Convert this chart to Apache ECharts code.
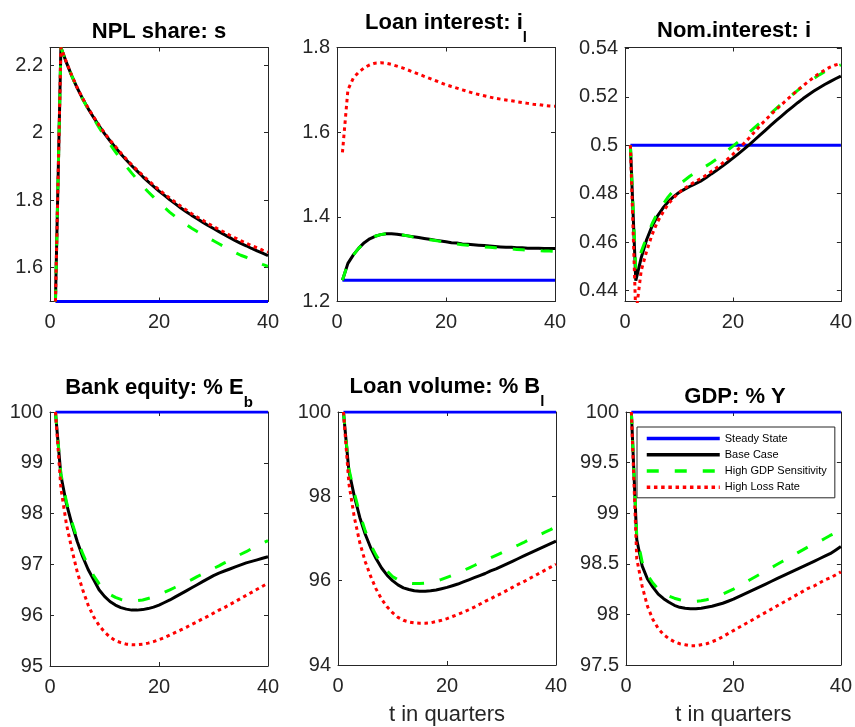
<!DOCTYPE html>
<html><head><meta charset="utf-8">
<script src="https://cdn.jsdelivr.net/npm/echarts@6/dist/echarts.min.js"></script>
<style>html,body{margin:0;padding:0;background:#fff}#c{width:855px;height:727px}</style>
</head><body><div id="c"></div>
<script>
const quarters = [1,2,3,4,5,6,7,8,9,10,11,12,13,14,15,16,17,18,19,20,21,22,23,24,25,26,27,28,29,30,31,32,33,34,35,36,37,38,39,40];
const seriesNames = ['Steady State','Base Case','High GDP Sensitivity','High Loss Rate'];

// Panel 1: NPL share s
const nplSteady = [1.5,1.5,1.5,1.5,1.5,1.5,1.5,1.5,1.5,1.5,1.5,1.5,1.5,1.5,1.5,1.5,1.5,1.5,1.5,1.5,1.5,1.5,1.5,1.5,1.5,1.5,1.5,1.5,1.5,1.5,1.5,1.5,1.5,1.5,1.5,1.5,1.5,1.5,1.5,1.5];
const nplBase = [1.500,2.252,2.208,2.168,2.132,2.100,2.071,2.045,2.020,1.997,1.976,1.956,1.937,1.919,1.902,1.886,1.870,1.855,1.841,1.827,1.814,1.801,1.789,1.777,1.766,1.755,1.745,1.735,1.725,1.716,1.707,1.698,1.689,1.680,1.672,1.665,1.657,1.650,1.643,1.636];
const nplGdp = [1.500,2.252,2.208,2.168,2.131,2.099,2.069,2.042,2.015,1.990,1.966,1.943,1.921,1.900,1.880,1.861,1.842,1.825,1.809,1.793,1.778,1.764,1.751,1.739,1.728,1.717,1.707,1.698,1.688,1.680,1.671,1.662,1.654,1.645,1.637,1.631,1.623,1.617,1.610,1.604];
const nplLoss = [1.500,2.252,2.209,2.169,2.133,2.101,2.073,2.047,2.022,1.999,1.978,1.959,1.940,1.922,1.905,1.889,1.874,1.859,1.845,1.831,1.818,1.806,1.794,1.782,1.771,1.760,1.750,1.741,1.731,1.722,1.713,1.705,1.696,1.688,1.680,1.673,1.665,1.659,1.652,1.646];
const nplTicks = [1.6,1.8,2,2.2];

// Panel 2: Loan interest i_l
const loanSteady = [1.25,1.25,1.25,1.25,1.25,1.25,1.25,1.25,1.25,1.25,1.25,1.25,1.25,1.25,1.25,1.25,1.25,1.25,1.25,1.25,1.25,1.25,1.25,1.25,1.25,1.25,1.25,1.25,1.25,1.25,1.25,1.25,1.25,1.25,1.25,1.25,1.25,1.25,1.25,1.25];
const loanBase = [1.250,1.290,1.310,1.326,1.339,1.348,1.354,1.358,1.360,1.360,1.359,1.357,1.355,1.353,1.351,1.349,1.347,1.345,1.343,1.341,1.339,1.338,1.336,1.335,1.334,1.333,1.332,1.331,1.330,1.329,1.328,1.328,1.327,1.327,1.326,1.326,1.326,1.325,1.325,1.325];
const loanGdp = [1.250,1.290,1.310,1.326,1.339,1.348,1.354,1.358,1.360,1.360,1.359,1.357,1.355,1.352,1.350,1.348,1.346,1.344,1.342,1.340,1.338,1.336,1.334,1.333,1.331,1.330,1.329,1.328,1.327,1.326,1.325,1.324,1.323,1.322,1.321,1.321,1.320,1.319,1.319,1.318];
const loanLoss = [1.552,1.700,1.728,1.742,1.752,1.759,1.763,1.764,1.763,1.760,1.756,1.752,1.747,1.742,1.737,1.732,1.727,1.722,1.717,1.712,1.708,1.704,1.700,1.696,1.692,1.689,1.686,1.683,1.680,1.678,1.676,1.674,1.672,1.670,1.668,1.666,1.665,1.663,1.662,1.661];
const loanTicks = [1.2,1.4,1.6,1.8];

// Panel 3: Nominal interest i
const nomSteady = [0.5,0.5,0.5,0.5,0.5,0.5,0.5,0.5,0.5,0.5,0.5,0.5,0.5,0.5,0.5,0.5,0.5,0.5,0.5,0.5,0.5,0.5,0.5,0.5,0.5,0.5,0.5,0.5,0.5,0.5,0.5,0.5,0.5,0.5,0.5,0.5,0.5,0.5,0.5,0.5];
const nomBase = [0.500,0.4441,0.4535,0.4610,0.4665,0.4708,0.4740,0.4767,0.4788,0.4805,0.4818,0.4830,0.4841,0.4852,0.4866,0.4882,0.4897,0.4913,0.4930,0.4947,0.4965,0.4983,0.5002,0.5022,0.5042,0.5062,0.5082,0.5102,0.5121,0.5140,0.5158,0.5176,0.5193,0.5209,0.5224,0.5238,0.5251,0.5263,0.5275,0.5286];
const nomGdp = [0.500,0.4490,0.4560,0.4620,0.4675,0.4720,0.4755,0.4787,0.4813,0.4836,0.4855,0.4872,0.4887,0.4900,0.4914,0.4928,0.4944,0.4961,0.4979,0.4997,0.5015,0.5034,0.5053,0.5073,0.5092,0.5112,0.5132,0.5152,0.5172,0.5191,0.5209,0.5227,0.5245,0.5261,0.5276,0.5291,0.5304,0.5316,0.5325,0.5332];
const nomLoss = [0.500,0.4300,0.4482,0.4562,0.4630,0.4683,0.4722,0.4757,0.4783,0.4805,0.4822,0.4836,0.4850,0.4862,0.4876,0.4892,0.4908,0.4925,0.4943,0.4963,0.4985,0.5007,0.5030,0.5055,0.5080,0.5104,0.5126,0.5148,0.5168,0.5188,0.5208,0.5228,0.5246,0.5264,0.5281,0.5297,0.5311,0.5323,0.5332,0.5338];
const nomTicks = [0.44,0.46,0.48,0.5,0.52,0.54];

// Panel 4: Bank equity % E_b
const eqSteady = [100,100,100,100,100,100,100,100,100,100,100,100,100,100,100,100,100,100,100,100,100,100,100,100,100,100,100,100,100,100,100,100,100,100,100,100,100,100,100,100];
const eqBase = [100,98.75,98.2,97.8,97.45,97.15,96.9,96.7,96.5,96.37,96.27,96.2,96.15,96.12,96.10,96.10,96.11,96.13,96.16,96.20,96.25,96.30,96.36,96.42,96.48,96.54,96.60,96.66,96.72,96.78,96.83,96.87,96.91,96.95,96.99,97.03,97.06,97.09,97.12,97.15];
const eqGdp = [100,98.78,98.24,97.84,97.5,97.21,96.97,96.78,96.62,96.5,96.41,96.35,96.31,96.29,96.28,96.285,96.30,96.33,96.36,96.40,96.45,96.50,96.55,96.60,96.65,96.70,96.76,96.81,96.86,96.92,96.97,97.03,97.08,97.14,97.20,97.25,97.31,97.36,97.42,97.47];
const eqLoss = [100,98.5,97.8,97.3,96.85,96.5,96.2,95.97,95.8,95.67,95.57,95.5,95.46,95.43,95.42,95.42,95.43,95.45,95.48,95.52,95.56,95.61,95.66,95.71,95.76,95.82,95.87,95.93,95.98,96.04,96.10,96.15,96.21,96.27,96.33,96.39,96.45,96.51,96.57,96.63];
const eqTicks = [95,96,97,98,99,100];

// Panel 5: Loan volume % B_l
const volSteady = [100,100,100,100,100,100,100,100,100,100,100,100,100,100,100,100,100,100,100,100,100,100,100,100,100,100,100,100,100,100,100,100,100,100,100,100,100,100,100,100];
const volBase = [100,98.6,98.0,97.5,97.1,96.78,96.52,96.3,96.13,96.0,95.9,95.83,95.79,95.76,95.75,95.75,95.76,95.78,95.81,95.84,95.88,95.92,95.97,96.02,96.07,96.12,96.17,96.23,96.28,96.34,96.40,96.46,96.52,96.58,96.64,96.70,96.76,96.82,96.88,96.94];
const volGdp = [100,98.65,98.08,97.58,97.18,96.85,96.6,96.4,96.23,96.1,96.02,95.97,95.94,95.93,95.93,95.94,95.96,95.99,96.03,96.08,96.13,96.18,96.24,96.30,96.36,96.42,96.48,96.54,96.60,96.66,96.72,96.78,96.84,96.90,96.97,97.03,97.09,97.15,97.21,97.28];
const volLoss = [100,98.3,97.5,96.9,96.45,96.1,95.8,95.56,95.38,95.24,95.13,95.06,95.02,95.0,94.99,94.99,95.0,95.03,95.06,95.10,95.15,95.20,95.25,95.31,95.37,95.44,95.51,95.57,95.64,95.70,95.77,95.84,95.91,95.97,96.04,96.11,96.18,96.25,96.32,96.39];
const volTicks = [94,96,98,100];

// Panel 6: GDP % Y
const gdpSteady = [100,100,100,100,100,100,100,100,100,100,100,100,100,100,100,100,100,100,100,100,100,100,100,100,100,100,100,100,100,100,100,100,100,100,100,100,100,100,100,100];
const gdpBase = [100,98.74,98.48,98.35,98.27,98.2,98.155,98.12,98.09,98.07,98.06,98.055,98.055,98.06,98.07,98.08,98.095,98.11,98.13,98.15,98.175,98.2,98.225,98.25,98.275,98.30,98.325,98.35,98.375,98.40,98.425,98.45,98.475,98.50,98.525,98.55,98.575,98.60,98.635,98.67];
const gdpGdp = [100,98.78,98.52,98.39,98.31,98.25,98.21,98.18,98.16,98.145,98.135,98.13,98.13,98.135,98.145,98.16,98.18,98.20,98.225,98.25,98.28,98.31,98.34,98.37,98.40,98.43,98.46,98.49,98.52,98.55,98.58,98.61,98.64,98.67,98.70,98.72,98.75,98.78,98.805,98.83];
const gdpLoss = [100,98.55,98.28,98.08,97.95,97.86,97.8,97.76,97.73,97.71,97.70,97.69,97.69,97.70,97.71,97.73,97.75,97.78,97.81,97.84,97.87,97.90,97.93,97.96,97.99,98.02,98.05,98.08,98.11,98.14,98.17,98.20,98.23,98.26,98.28,98.31,98.34,98.36,98.39,98.42];
const gdpTicks = [97.5,98,98.5,99,99.5,100];

const xTicks = [0,20,40];
const xLabel = 't in quarters';

const FONT = '"Liberation Sans", Arial, Helvetica, sans-serif';
const AX = '#262626';

const panels = [
  {main:'NPL share: s', sub:'', left:50, top:47.5, min:1.5, max:2.252, ticks:nplTicks, data:[nplSteady,nplBase,nplGdp,nplLoss], tTop:21},
  {main:'Loan interest: i', sub:'l', left:337, top:47.5, min:1.2, max:1.8, ticks:loanTicks, data:[loanSteady,loanBase,loanGdp,loanLoss], tTop:12},
  {main:'Nom.interest: i', sub:'', left:625, top:47.5, min:0.4355, max:0.5404, ticks:nomTicks, data:[nomSteady,nomBase,nomGdp,nomLoss], tTop:20},
  {main:'Bank equity: % E', sub:'b', left:50, top:412, min:95, max:100, ticks:eqTicks, data:[eqSteady,eqBase,eqGdp,eqLoss], tTop:377},
  {main:'Loan volume: % B', sub:'l', left:338, top:412, min:94, max:100, ticks:volTicks, data:[volSteady,volBase,volGdp,volLoss], tTop:376, xname:true},
  {main:'GDP: % Y', sub:'', left:626, top:412, min:97.5, max:100, ticks:gdpTicks, data:[gdpSteady,gdpBase,gdpGdp,gdpLoss], tTop:386, xname:true}
];
const W = 218, H = 254;

const lineStyles = [
  {color:'#0000ff', width:3, type:'solid'},
  {color:'#000000', width:3, type:'solid'},
  {color:'#00ff00', width:3, type:[12,16]},
  {color:'#ff0000', width:3, type:[3.5,3.7]}
];

const grid = [], xAxis = [], yAxis = [], series = [], title = [];
panels.forEach((p, i) => {
  grid.push({left:p.left, top:p.top, width:W, height:H, containLabel:false});
  const tick = {show:true, inside:true, length:4, lineStyle:{color:AX, width:1}};
  const line = {show:true, onZero:false, lineStyle:{color:AX, width:1}};
  xAxis.push({gridIndex:i, type:'value', min:0, max:40, interval:20, position:'bottom',
    axisLine:line, axisTick:tick, splitLine:{show:false},
    axisLabel:{fontSize:20, color:AX, fontFamily:FONT, margin:11, customValues:xTicks},
    name: p.xname ? xLabel : '', nameLocation:'middle', nameGap:39,
    nameTextStyle:{fontSize:22, color:AX, fontFamily:FONT}});
  xAxis.push({gridIndex:i, type:'value', min:0, max:40, interval:20, position:'top',
    axisLine:line, axisTick:tick, splitLine:{show:false}, axisLabel:{show:false}});
  yAxis.push({gridIndex:i, type:'value', min:p.min, max:p.max, position:'left',
    axisLine:line, axisTick:Object.assign({customValues:p.ticks}, tick), splitLine:{show:false},
    axisLabel:{fontSize:20, color:AX, fontFamily:FONT, margin:7, customValues:p.ticks}});
  yAxis.push({gridIndex:i, type:'value', min:p.min, max:p.max, position:'right',
    axisLine:line, axisTick:Object.assign({customValues:p.ticks}, tick), splitLine:{show:false},
    axisLabel:{show:false}});
  p.data.forEach((arr, k) => {
    series.push({type:'line', name:seriesNames[k], xAxisIndex:2*i, yAxisIndex:2*i,
      data: quarters.map((t, j) => [t, arr[j]]),
      symbol:'none', showSymbol:false, clip:true, animation:false,
      lineStyle:lineStyles[k], itemStyle:{color:lineStyles[k].color},
      emphasis:{disabled:true}, z:2+k});
  });
  const txt = '{m|' + p.main + '}' + (p.sub ? '{s|' + p.sub + '}' : '');
  title.push({text:txt, left:p.left + W/2, top:p.tTop, textAlign:'center', padding:0,
    textStyle:{fontFamily:FONT, fontSize:22, fontWeight:'bold', color:'#000',
      rich:{
        m:{fontFamily:FONT, fontSize:22, fontWeight:'bold', color:'#000', lineHeight:26, verticalAlign:'top'},
        s:{fontFamily:FONT, fontSize:15, fontWeight:'bold', color:'#000', lineHeight:15, verticalAlign:'top', padding:[18,0,0,0]}
      }}});
});

const chart = echarts.init(document.getElementById('c'), null, {renderer:'canvas'});
chart.setOption({
  backgroundColor:'#ffffff',
  animation:false,
  title: title,
  grid: grid, xAxis: xAxis, yAxis: yAxis, series: series,
  legend: {show:true, data:seriesNames, left:637, top:427, orient:'vertical',
    itemWidth:73, itemHeight:14, itemGap:5, padding:[6,8,5,8],
    backgroundColor:'#ffffff', borderColor:AX, borderWidth:1, borderRadius:0,
    selectedMode:false,
    itemStyle:{color:'rgba(0,0,0,0)', borderWidth:0, opacity:0},
    lineStyle:{width:3.5},
    textStyle:{fontSize:11, color:'#000', fontFamily:FONT}}
});
</script>
</body></html>
